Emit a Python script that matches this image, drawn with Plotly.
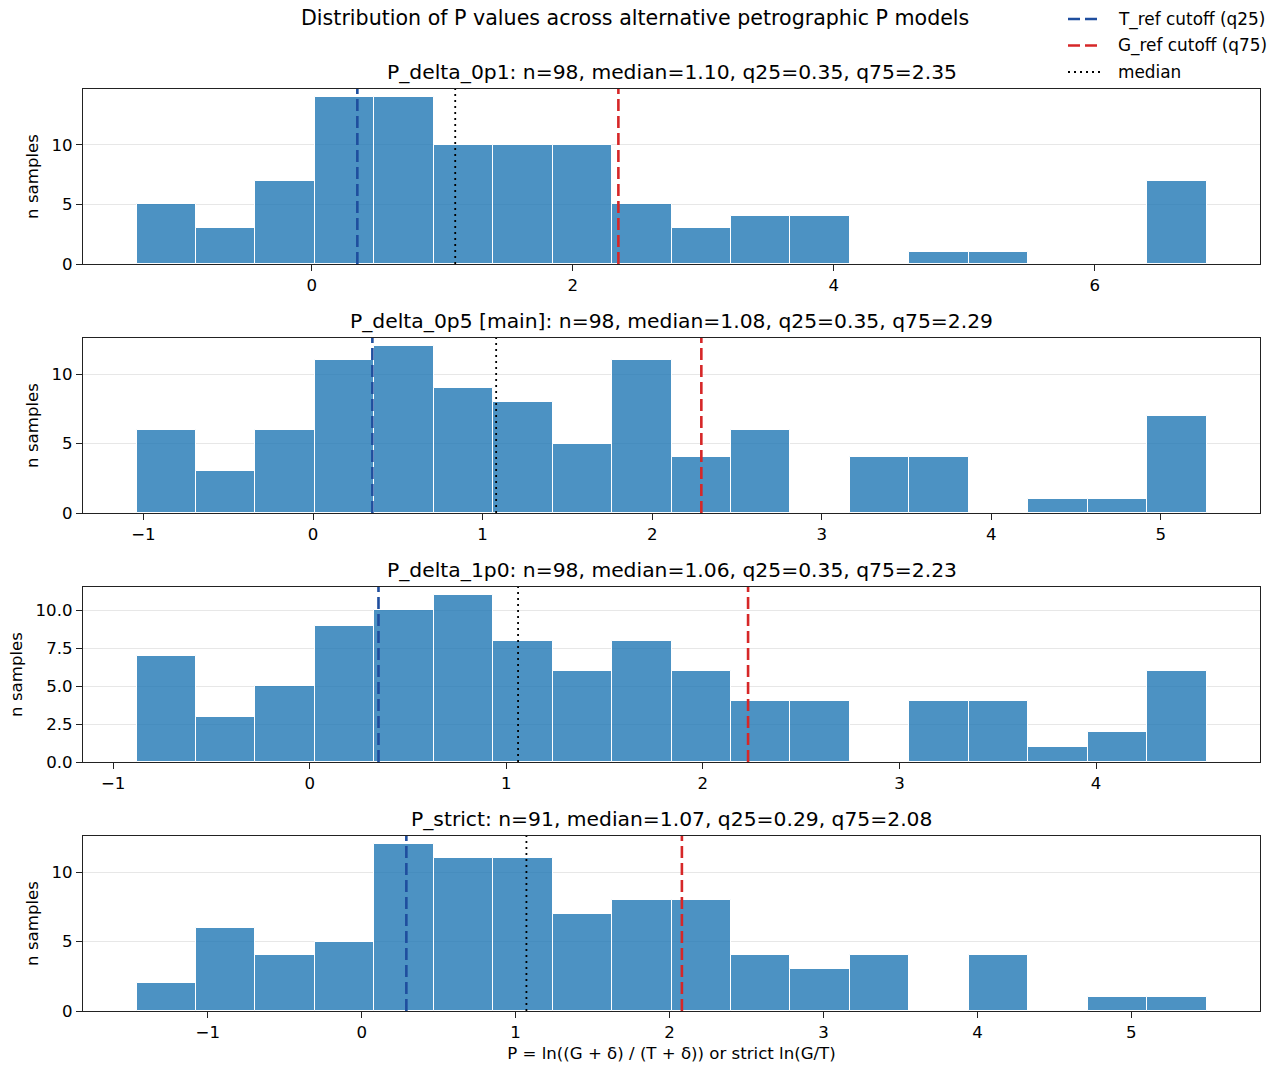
import plotly.graph_objects as go

# ---------------- data ----------------
panel_names = ["P_delta_0p1", "P_delta_0p5 [main]", "P_delta_1p0", "P_strict"]
n_samples = [98, 98, 98, 91]
medians = [1.10, 1.08, 1.06, 1.07]
q25s = [0.35, 0.35, 0.35, 0.29]
q75s = [2.35, 2.29, 2.23, 2.08]

# histogram range (min, max of the data) for 18 equal bins
bin_lo = [-1.342, -1.041, -0.881, -1.463]
bin_hi = [6.856, 5.269, 4.562, 5.488]

counts_0p1 = [5, 3, 7, 14, 14, 10, 10, 10, 5, 3, 4, 4, 0, 1, 1, 0, 0, 7]
counts_0p5 = [6, 3, 6, 11, 12, 9, 8, 5, 11, 4, 6, 0, 4, 4, 0, 1, 1, 7]
counts_1p0 = [7, 3, 5, 9, 10, 11, 8, 6, 8, 6, 4, 4, 0, 4, 4, 1, 2, 6]
counts_strict = [2, 6, 4, 5, 12, 11, 11, 7, 8, 8, 4, 3, 4, 0, 4, 0, 1, 1]
all_counts = [counts_0p1, counts_0p5, counts_1p0, counts_strict]

x_dticks = [2, 1, 1, 1]
y_dticks = [5, 5, 2.5, 5]
y_formats = ["d", "d", ".1f", "d"]

legend_labels = ["T_ref cutoff (q25)", "G_ref cutoff (q75)", "median"]

suptitle = "Distribution of P values across alternative petrographic P models"
xlabel = "P = ln((G + δ) / (T + δ)) or strict ln(G/T)"
ylabel = "n samples"

# ---------------- layout geometry ----------------
W, H = 1278, 1065
ml, mr, mt, mb = 83, 18, 89, 54
ph = H - mt - mb
pw = W - ml - mr
axes_px = [(89, 264), (338, 513), (587, 762), (836, 1011)]

def ypaper(px):
    return (H - mb - px) / ph

def xpaper(px):
    return (px - ml) / pw

BAR_COLOR = "rgba(31,119,180,0.8)"
BLUE = "#1f4e9e"
RED = "#d62728"
FONT = "DejaVu Sans"
FS = 16.6
DASH = "12px,5px"
DOT = "2px,4px"
line_styles = [(BLUE, DASH, 2.6), (RED, DASH, 2.6), ("black", DOT, 1.8)]

fig = go.Figure()
annotations = []
shapes = []

for i in range(4):
    counts = all_counts[i]
    nb = len(counts)
    lo, hi = bin_lo[i], bin_hi[i]
    w = (hi - lo) / nb
    centers = [lo + w * (k + 0.5) for k in range(nb)]
    ax = "" if i == 0 else str(i + 1)
    xa, ya = "x" + ax, "y" + ax
    fig.add_trace(go.Bar(
        x=centers, y=counts, width=[w] * nb,
        marker=dict(color=BAR_COLOR, line=dict(color="white", width=1)),
        xaxis=xa, yaxis=ya, showlegend=False, hoverinfo="x+y",
    ))
    span = hi - lo
    xr = [lo - 0.05 * span, hi + 0.05 * span]
    ymax = max(counts) * 1.05
    top_px, bot_px = axes_px[i]
    dom = [ypaper(bot_px), ypaper(top_px)]
    axis_common = dict(
        showline=True, linecolor="#222", linewidth=1.3, mirror=True,
        ticks="outside", ticklen=6, tickwidth=1.3, tickcolor="#222",
        tickfont=dict(family=FONT, size=FS, color="black"),
        zeroline=False, automargin=False,
    )
    fig.layout["xaxis" + ax] = dict(
        axis_common, range=xr, dtick=x_dticks[i], tick0=0, showgrid=False,
        anchor=ya, domain=[0, 1],
        title=dict(text=xlabel if i == 3 else "", font=dict(family=FONT, size=FS, color="black"), standoff=6),
    )
    fig.layout["yaxis" + ax] = dict(
        axis_common, range=[0, ymax], dtick=y_dticks[i], tick0=0, tickformat=y_formats[i],
        showgrid=True, gridcolor="rgba(176,176,176,0.3)", gridwidth=1,
        anchor=xa, domain=dom,
        title=dict(text=ylabel, font=dict(family=FONT, size=FS, color="black"), standoff=8),
    )
    # reference lines
    for val, (col, dash, lw) in zip([q25s[i], q75s[i], medians[i]], line_styles):
        shapes.append(dict(type="line", xref=xa, yref=ya + " domain", x0=val, x1=val, y0=0, y1=1,
                           line=dict(color=col, dash=dash, width=lw), layer="above"))
    title = f"{panel_names[i]}: n={n_samples[i]}, median={medians[i]:.2f}, q25={q25s[i]:.2f}, q75={q75s[i]:.2f}"
    annotations.append(dict(text=title, xref="paper", yref="paper", x=0.5, y=dom[1],
                            xanchor="center", yanchor="bottom", yshift=3, showarrow=False,
                            font=dict(family=FONT, size=20.3, color="black")))

annotations.append(dict(text=suptitle, xref="paper", yref="paper", x=xpaper(635), y=ypaper(18),
                        xanchor="center", yanchor="middle", showarrow=False,
                        font=dict(family=FONT, size=20.6, color="black")))

# figure legend (matplotlib-style: 32 px line sample, text after a gap)
legend_rows_px = [19, 45.5, 72]
for label, (col, dash, lw), ypx in zip(legend_labels, line_styles, legend_rows_px):
    shapes.append(dict(type="line", xref="paper", yref="paper",
                       x0=xpaper(1068), x1=xpaper(1101), y0=ypaper(ypx), y1=ypaper(ypx),
                       line=dict(color=col, dash=dash, width=lw)))
    annotations.append(dict(text=label, xref="paper", yref="paper", x=xpaper(1116), y=ypaper(ypx),
                            xanchor="left", yanchor="middle", showarrow=False,
                            font=dict(family=FONT, size=16.9, color="black")))

fig.update_layout(
    width=W, height=H,
    margin=dict(l=ml, r=mr, t=mt, b=mb, autoexpand=False),
    paper_bgcolor="white", plot_bgcolor="white",
    bargap=0, showlegend=False,
    shapes=shapes, annotations=annotations,
    font=dict(family=FONT, size=FS, color="black"),
)

fig.write_html("out.html")
